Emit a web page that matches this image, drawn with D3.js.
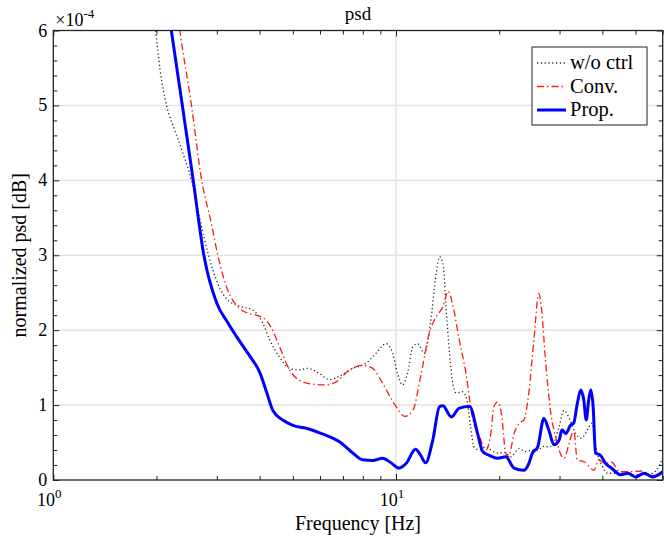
<!DOCTYPE html>
<html><head><meta charset="utf-8">
<script src="https://cdn.jsdelivr.net/npm/d3@7/dist/d3.min.js"></script>
<style>
body{margin:0;background:#fff;}
svg text{font-family:"Liberation Serif","Times New Roman",serif;fill:#000;}
</style></head>
<body><svg id="chart" width="664" height="538"></svg>
<script>
// ---- data (values in units of 1e-4) ----
const titleText = "psd";
const xLabel = "Frequency [Hz]";
const yLabel = "normalized psd [dB]";
const seriesNames = ["w/o ctrl", "Conv.", "Prop."];
const xMajorTicks = [1, 10];
const xMinorTicks = [2,3,4,5,6,7,8,9,20,30,40,50,60];
const yMajorTicks = [0,1,2,3,4,5,6];
const yMinorTicks = [0.2,0.4,0.6,0.8,1.2,1.4,1.6,1.8,2.2,2.4,2.6,2.8,3.2,3.4,3.6,3.8,4.2,4.4,4.6,4.8,5.2,5.4,5.6,5.8];

const woFreq = [1.97,1.99,2.05,2.14,2.26,2.39,2.53,2.68,2.83,3.02,3.27,3.57,3.82,4.09,4.28,4.57,4.89,5.2,5.53,5.98,6.4,6.8,7.48,8.18,8.74,9.35,9.78,10.1,10.45,10.8,11.2,11.56,12.1,12.6,13.1,13.4,13.7,14.1,14.6,15.0,15.6,16.1,16.5,16.9,17.5,18.3,18.9,19.8,20.7,21.6,22.9,23.8,25.0,25.9,27.0,28.0,29.0,29.9,30.9,32.2,33.4,34.8,36.2,37.3,38.3,40,41.5,45,50,55,58,60];
const woVal  = [6.2,6.0,5.47,5.0,4.67,4.36,4.0,3.47,3.02,2.62,2.38,2.31,2.27,2.09,1.87,1.64,1.49,1.47,1.49,1.42,1.34,1.38,1.49,1.56,1.69,1.82,1.69,1.42,1.27,1.42,1.78,1.82,1.69,2.09,2.76,2.98,2.89,2.09,1.33,1.16,1.18,1.07,0.71,0.44,0.40,0.44,0.40,0.36,0.37,0.31,0.42,0.38,0.40,0.40,0.45,0.44,0.52,0.71,0.93,0.8,0.62,0.56,0.67,0.76,0.44,0.18,0.09,0.09,0.07,0.08,0.15,0.3];

const convFreq = [2.25,2.34,2.53,2.71,2.89,3.02,3.23,3.5,3.74,3.91,4.18,4.32,4.57,4.89,5.23,5.71,6.25,6.69,7.31,8.0,8.55,9.14,10.0,10.6,11.2,11.8,12.5,13.1,13.7,14.2,14.6,15.3,16.0,16.7,17.5,18.3,18.9,19.3,19.8,20.3,20.9,21.3,22.1,22.9,23.6,24.4,25.3,26.1,26.6,27.3,28.3,29.2,30.9,32.0,33.0,33.8,35.5,37.8,39,40.9,42.5,45,48,52,56,60];
const convVal  = [6.6,6.0,5.0,4.0,3.43,3.0,2.53,2.29,2.22,2.2,2.13,2.04,1.78,1.47,1.33,1.28,1.27,1.31,1.47,1.53,1.49,1.29,0.98,0.85,0.93,1.38,1.96,2.18,2.31,2.52,2.36,1.87,1.42,0.84,0.58,0.40,0.62,0.98,1.04,0.89,0.36,0.31,0.62,0.76,0.8,1.16,1.91,2.49,2.27,1.6,0.89,0.58,0.29,0.49,0.67,0.27,0.24,0.13,0.27,0.22,0.24,0.11,0.11,0.12,0.06,0.08];

const propFreq = [2.12,2.21,2.38,2.56,2.75,3.0,3.23,3.5,3.75,4.0,4.2,4.37,4.67,5.0,5.47,5.98,6.53,6.84,7.48,8.0,8.55,9.14,9.67,10.2,10.7,11.4,11.8,12.2,12.8,13.4,13.7,14.5,15.3,16.4,17.3,17.9,18.7,19.8,20.9,22.1,23.6,24.4,25.0,25.9,27.0,27.9,28.9,29.9,30.5,31.3,32.3,33.0,33.8,34.6,35.3,35.9,36.5,37.0,37.6,38.2,39.5,40.9,42.5,45.2,47.5,50,53,56,60];
const propVal  = [6.6,6.0,5.0,4.0,3.0,2.36,2.1,1.85,1.65,1.44,1.16,0.93,0.8,0.73,0.69,0.63,0.56,0.51,0.36,0.27,0.26,0.29,0.23,0.16,0.22,0.41,0.33,0.23,0.53,0.98,0.99,0.84,0.96,0.98,0.62,0.38,0.33,0.29,0.31,0.16,0.13,0.22,0.36,0.44,0.82,0.67,0.47,0.53,0.67,0.62,0.73,0.76,1.02,1.2,1.07,0.8,1.07,1.2,0.98,0.36,0.33,0.22,0.16,0.07,0.09,0.04,0.09,0.04,0.11];

// ---- layout ----
const L = 53.3, R = 662.7, T = 30.5, B = 480;
const svg = d3.select("#chart");
const x = d3.scaleLog().domain([1, 60]).range([L, R]);
const y = d3.scaleLinear().domain([0, 6]).range([B, T]);

svg.append("defs").append("clipPath").attr("id","clip")
  .append("rect").attr("x",L).attr("y",T).attr("width",R-L).attr("height",B-T);

// grid
const grid = svg.append("g").attr("stroke","#e3e3e3").attr("stroke-width",1.5);
grid.selectAll("line.gy").data(yMajorTicks.filter(d=>d>0&&d<6)).join("line")
  .attr("x1",L).attr("x2",R).attr("y1",d=>y(d)).attr("y2",d=>y(d));
grid.selectAll("line.gx").data(xMajorTicks.filter(d=>d>1)).join("line")
  .attr("x1",d=>x(d)).attr("x2",d=>x(d)).attr("y1",T).attr("y2",B);

// series
const series = [
  {name: seriesNames[0], f: woFreq, v: woVal, color:"#222", width:1.3, dash:"1.2,2.6"},
  {name: seriesNames[1], f: convFreq, v: convVal, color:"#ff1a1a", width:1.3, dash:"7,3,1.5,3"},
  {name: seriesNames[2], f: propFreq, v: propVal, color:"#0000ff", width:3, dash:null}
];
const line = d3.line().x(d=>x(d[0])).y(d=>y(d[1])).curve(d3.curveMonotoneX);
const gl = svg.append("g").attr("clip-path","url(#clip)");
series.forEach(s=>{
  gl.append("path").datum(s.f.map((f,i)=>[f,s.v[i]]))
    .attr("fill","none").attr("stroke",s.color).attr("stroke-width",s.width)
    .attr("stroke-dasharray",s.dash).attr("stroke-linejoin","round")
    .attr("d",line);
});

// axes
function tickAxis(axisFn, scale, ticks, size, transform){
  const a = axisFn(scale).tickValues(ticks).tickSizeInner(-size).tickSizeOuter(0).tickFormat("");
  const g = svg.append("g").attr("transform",transform).call(a);
  g.select(".domain").remove();
  g.selectAll("line").attr("stroke","#222").attr("stroke-width",1);
  return g;
}
tickAxis(d3.axisBottom, x, xMajorTicks, 6, `translate(0,${B})`);
tickAxis(d3.axisBottom, x, xMinorTicks, 4, `translate(0,${B})`);
tickAxis(d3.axisTop, x, xMajorTicks, 6, `translate(0,${T})`);
tickAxis(d3.axisTop, x, xMinorTicks, 4, `translate(0,${T})`);
tickAxis(d3.axisLeft, y, yMajorTicks, 6, `translate(${L},0)`);
tickAxis(d3.axisLeft, y, yMinorTicks, 4, `translate(${L},0)`);
tickAxis(d3.axisRight, y, yMajorTicks, 6, `translate(${R},0)`);
tickAxis(d3.axisRight, y, yMinorTicks, 4, `translate(${R},0)`);

svg.append("rect").attr("x",L).attr("y",T).attr("width",R-L).attr("height",B-T)
  .attr("fill","none").attr("stroke","#222").attr("stroke-width",1.3);

// tick labels
svg.append("g").selectAll("text").data(yMajorTicks).join("text")
  .attr("x",L-6).attr("y",d=>y(d)+6).attr("text-anchor","end")
  .style("font-size","18px").text(d=>d);
const xl = svg.append("g").selectAll("text").data(xMajorTicks).join("text")
  .attr("x",d=>x(d)-4).attr("y",B+26).attr("text-anchor","middle").style("font-size","18px");
xl.append("tspan").text("10");
xl.append("tspan").attr("dy",-8).style("font-size","13px").text(d=>Math.round(Math.log10(d)));

const ex = svg.append("text").attr("x",L+2).attr("y",T-5).style("font-size","18px");
ex.append("tspan").text("\u00d710");
ex.append("tspan").attr("dy",-8).style("font-size","13px").text("-4");

// labels
svg.append("text").attr("x",(L+R)/2).attr("y",20).attr("text-anchor","middle")
  .style("font-size","19px").text(titleText);
svg.append("text").attr("x",(L+R)/2).attr("y",530).attr("text-anchor","middle")
  .style("font-size","20px").text(xLabel);
svg.append("text").attr("transform",`translate(26,${(T+B)/2}) rotate(-90)`)
  .attr("text-anchor","middle").style("font-size","20px").text(yLabel);

// legend
const lg = svg.append("g");
lg.append("rect").attr("x",532).attr("y",47).attr("width",115).attr("height",78)
  .attr("fill","#fff").attr("stroke","#222").attr("stroke-width",1);
series.forEach((s,i)=>{
  const yy = 63 + i*23.5;
  lg.append("line").attr("x1",537).attr("x2",566).attr("y1",yy).attr("y2",yy)
    .attr("stroke",s.color).attr("stroke-width",s.width).attr("stroke-dasharray",s.dash);
  lg.append("text").attr("x",570).attr("y",yy+6).style("font-size","20.5px").text(s.name);
});
</script></body></html>
